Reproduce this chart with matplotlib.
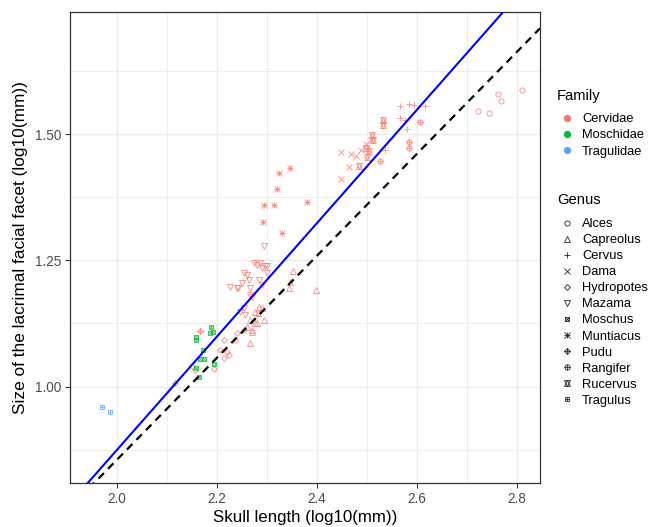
import numpy as np
import matplotlib
matplotlib.use("Agg")
import matplotlib.pyplot as plt
from matplotlib.lines import Line2D
from matplotlib.legend_handler import HandlerTuple

plt.rcParams['font.family'] = ['Liberation Sans', 'DejaVu Sans']

# skull length / lacrimal facet size, both log10(mm), per genus
alces_x = [2.721, 2.744, 2.761, 2.768, 2.811]
alces_y = [1.545, 1.542, 1.579, 1.566, 1.588]

capreolus_x = [2.351, 2.346, 2.343, 2.398, 2.289, 2.293, 2.279, 2.269, 2.265, 2.276, 2.283, 2.266,
               2.276, 2.270, 2.282, 2.260]
capreolus_y = [1.228, 1.208, 1.195, 1.191, 1.155, 1.132, 1.125, 1.112, 1.086, 1.148, 1.158, 1.132,
               1.126, 1.108, 1.146, 1.118]

cervus_x = [2.566, 2.583, 2.593, 2.616, 2.566, 2.576, 2.579, 2.536]
cervus_y = [1.555, 1.560, 1.558, 1.555, 1.532, 1.529, 1.510, 1.469]

dama_x = [2.449, 2.469, 2.478, 2.465, 2.449, 2.498, 2.508, 2.488]
dama_y = [1.464, 1.461, 1.457, 1.435, 1.411, 1.481, 1.489, 1.469]

hydropotes_x = [2.149, 2.156, 2.193, 2.213, 2.206, 2.219, 2.223, 2.213, 2.236, 2.239, 2.253]
hydropotes_y = [1.041, 1.033, 1.034, 1.092, 1.072, 1.069, 1.062, 1.056, 1.092, 1.106, 1.112]

mazama_x = [2.293, 2.273, 2.279, 2.286, 2.296, 2.299, 2.289, 2.253, 2.259, 2.263, 2.249, 2.239,
            2.266, 2.283, 2.289, 2.299, 2.269, 2.253, 2.246, 2.256, 2.226, 2.242, 2.266]
mazama_y = [1.279, 1.244, 1.241, 1.244, 1.238, 1.239, 1.235, 1.225, 1.221, 1.211, 1.205, 1.195,
            1.195, 1.211, 1.201, 1.225, 1.178, 1.155, 1.148, 1.142, 1.198, 1.195, 1.181]

moschus_x = [2.159, 2.159, 2.187, 2.185, 2.191, 2.171, 2.166, 2.174, 2.158, 2.163, 2.193]
moschus_y = [1.098, 1.092, 1.119, 1.106, 1.109, 1.072, 1.055, 1.055, 1.036, 1.019, 1.045]

muntiacus_x = [2.323, 2.345, 2.319, 2.294, 2.314, 2.381, 2.291, 2.329]
muntiacus_y = [1.423, 1.432, 1.391, 1.360, 1.360, 1.365, 1.327, 1.305]

pudu_x = [2.166, 2.116]
pudu_y = [1.111, 1.008]

rangifer_x = [2.526, 2.605, 2.583, 2.583]
rangifer_y = [1.446, 1.525, 1.484, 1.473]

rucervus_x = [2.531, 2.531, 2.499, 2.483, 2.503, 2.510, 2.512, 2.498]
rucervus_y = [1.529, 1.519, 1.455, 1.437, 1.466, 1.499, 1.489, 1.473]

tragulus_x = [1.970, 1.986]
tragulus_y = [0.959, 0.949]

# fitted line and reference line
fit_slope, fit_icpt = 1.123, -1.3713
ref_slope, ref_icpt = 1.01, -1.1648

families = ['Cervidae', 'Moschidae', 'Tragulidae']
fam_colors = {'Cervidae': '#F8766D', 'Moschidae': '#00BA38', 'Tragulidae': '#619CFF'}

# ggplot shapes 1..12 built from matplotlib markers (marker, size factor)
shapes = {
    'Alces': [('o', 1.0)],
    'Capreolus': [('^', 1.1)],
    'Cervus': [('+', 1.3)],
    'Dama': [('x', 1.0)],
    'Hydropotes': [('D', 0.8)],
    'Mazama': [('v', 1.1)],
    'Moschus': [('s', 0.9), ('x', 0.9)],
    'Muntiacus': [('+', 1.3), ('x', 1.0)],
    'Pudu': [('D', 0.8), ('+', 1.1)],
    'Rangifer': [('o', 1.0), ('+', 1.0)],
    'Rucervus': [('^', 1.1), ('v', 1.1)],
    'Tragulus': [('s', 0.9), ('+', 0.9)],
}

genera = [
    ('Alces', 'Cervidae', alces_x, alces_y),
    ('Capreolus', 'Cervidae', capreolus_x, capreolus_y),
    ('Cervus', 'Cervidae', cervus_x, cervus_y),
    ('Dama', 'Cervidae', dama_x, dama_y),
    ('Hydropotes', 'Cervidae', hydropotes_x, hydropotes_y),
    ('Mazama', 'Cervidae', mazama_x, mazama_y),
    ('Moschus', 'Moschidae', moschus_x, moschus_y),
    ('Muntiacus', 'Cervidae', muntiacus_x, muntiacus_y),
    ('Pudu', 'Cervidae', pudu_x, pudu_y),
    ('Rangifer', 'Cervidae', rangifer_x, rangifer_y),
    ('Rucervus', 'Cervidae', rucervus_x, rucervus_y),
    ('Tragulus', 'Tragulidae', tragulus_x, tragulus_y),
]

MS = 3.7

fig = plt.figure(figsize=(6.49, 5.27), dpi=100)
ax = fig.add_axes([70 / 649, 44 / 527, 470 / 649, 471 / 527])

xlim = (1.906, 2.846)
ylim = (0.809, 1.742)

for gen, fam, xs, ys in genera:
    col = fam_colors[fam]
    for mk, f in shapes[gen]:
        ax.plot(xs, ys, linestyle='none', marker=mk, markersize=MS * f,
                markerfacecolor='none', markeredgecolor=col, markeredgewidth=0.7,
                alpha=0.75, zorder=3)

xx = np.array(xlim)
ax.plot(xx, fit_slope * xx + fit_icpt, color='#0000FF', lw=1.5, zorder=4)
ax.plot(xx, ref_slope * xx + ref_icpt, color='black', lw=1.6, dashes=(3.5, 2.6), zorder=4)

ax.set_xlim(xlim)
ax.set_ylim(ylim)
ax.set_xticks([2.0, 2.2, 2.4, 2.6, 2.8])
ax.set_xticklabels(['2.0', '2.2', '2.4', '2.6', '2.8'])
ax.set_yticks([1.0, 1.25, 1.5])
ax.set_yticklabels(['1.00', '1.25', '1.50'])
ax.set_xticks([2.1, 2.3, 2.5, 2.7], minor=True)
ax.set_yticks([0.875, 1.125, 1.375, 1.625], minor=True)
ax.grid(which='major', color='#EBEBEB', lw=1.0, zorder=0)
ax.grid(which='minor', color='#EBEBEB', lw=0.6, zorder=0)
ax.set_axisbelow(True)
ax.tick_params(which='major', length=3.5, width=0.8, color='#333333',
               labelsize=9.8, labelcolor='#4D4D4D', pad=3)
ax.tick_params(which='minor', length=0)
for sp in ax.spines.values():
    sp.set_color('#333333')
    sp.set_linewidth(0.9)

ax.set_xlabel('Skull length (log10(mm))', fontsize=12.2, labelpad=3)
ax.set_ylabel('Size of the lacrimal facial facet (log10(mm))', fontsize=12.4, labelpad=5)

# legends: titles as plain text, entries as borderless legends
fig.text(557 / 649, 1 - 96 / 527, 'Family', fontsize=10.6, va='center', ha='left')
fig.text(557 / 649, 1 - 200 / 527, 'Genus', fontsize=10.6, va='center', ha='left')

fam_handles = [Line2D([], [], linestyle='none', marker='o', markersize=4.2,
                      markerfacecolor=fam_colors[f], markeredgecolor=fam_colors[f])
               for f in families]
fig.legend(fam_handles, families, loc='upper left',
           bbox_to_anchor=(555 / 649, 1 - 108 / 527), frameon=False,
           fontsize=9.3, handlelength=1.0, handletextpad=0.69,
           labelspacing=0.32, borderaxespad=0)

gen_handles = []
for gen, fam, xs, ys in genera:
    h = [Line2D([], [], linestyle='none', marker=m, markersize=MS * s,
                markerfacecolor='none', markeredgecolor='#222222', markeredgewidth=0.6)
         for m, s in shapes[gen]]
    gen_handles.append(tuple(h))
fig.legend(gen_handles, [g[0] for g in genera], loc='upper left',
           bbox_to_anchor=(555 / 649, 1 - 213 / 527), frameon=False,
           fontsize=9.3, handlelength=1.0, handletextpad=0.69,
           labelspacing=0.31, borderaxespad=0,
           handler_map={tuple: HandlerTuple(ndivide=1, pad=0)})

fig.savefig('out.png', dpi=100)
